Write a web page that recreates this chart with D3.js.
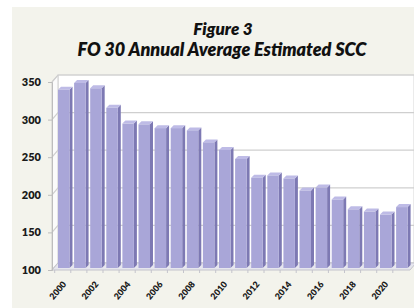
<!DOCTYPE html>
<html>
<head>
<meta charset="utf-8">
<script src="https://cdn.jsdelivr.net/npm/d3@7"></script>
<style>
  body { margin: 0; background: #ffffff; }
  svg { display: block; }
</style>
</head>
<body>
<div id="chart"></div>
<script>
// FO 30 annual average estimated SCC, 2000 - 2021
var years = [2000, 2001, 2002, 2003, 2004, 2005, 2006, 2007, 2008, 2009, 2010,
             2011, 2012, 2013, 2014, 2015, 2016, 2017, 2018, 2019, 2020, 2021];
var scc = [337, 346, 339, 313, 292, 291, 286, 286, 283, 267, 257,
           245, 220, 223, 219, 203, 207, 191, 178, 175, 171, 181];
var yTicks = [100, 150, 200, 250, 300, 350];
var xLabels = ["2000", "2002", "2004", "2006", "2008", "2010", "2012", "2014", "2016", "2018", "2020"];

var W = 414, H = 308;

var svg = d3.select("#chart")
  .append("svg")
    .attr("width", W)
    .attr("height", H);

// beige panel (white strip top / left like the scan)
svg.append("rect")
    .attr("x", 12).attr("y", 7)
    .attr("width", W - 12).attr("height", H - 7)
    .style("fill", "#f3f3ec");

// title
svg.append("text")
    .attr("x", 223).attr("y", 35)
    .attr("text-anchor", "middle")
    .style("font", "italic 800 17px Lato")
    .style("fill", "#111")
    .text("Figure 3");
svg.append("text")
    .attr("x", 222).attr("y", 56)
    .attr("text-anchor", "middle")
    .style("font", "italic 800 18px Lato")
    .style("fill", "#111")
    .text("FO 30 Annual Average Estimated SCC");

// scales (front plane of the 3d box)
var y = d3.scaleLinear().domain([100, 350]).range([270, 82]);
var x = d3.scaleBand()
    .domain(years)
    .range([52, 411.6])
    .paddingInner(0.286)
    .paddingOuter(0.31);

var depth = {dx: 6, dy: -7};     // back wall offset
var barOff = {dx: 1, dy: -2};    // bars sit a little behind the front plane
var side = {dx: 3, dy: -3};      // bar depth

var x0 = 52, x1 = 410;

// back wall
svg.append("rect")
    .attr("x", x0 + depth.dx).attr("y", y(350) + depth.dy)
    .attr("width", W - x0 - depth.dx).attr("height", y(100) - y(350))
    .style("fill", "#ffffff")
    .style("stroke", "#d6d6d6");

// left wall
svg.append("path")
    .attr("d", "M" + x0 + "," + y(100) + "L" + x0 + "," + y(350) +
               "L" + (x0 + depth.dx) + "," + (y(350) + depth.dy) +
               "L" + (x0 + depth.dx) + "," + (y(100) + depth.dy) + "Z")
    .style("fill", "#fbfbfb")
    .style("stroke", "#cfcfcf");

// gridlines
var grid = svg.append("g");
yTicks.forEach(function(t) {
  grid.append("path")
      .attr("d", "M" + x0 + "," + y(t) + "L" + (x0 + depth.dx) + "," + (y(t) + depth.dy) +
                 "L" + W + "," + (y(t) + depth.dy))
      .style("fill", "none")
      .style("stroke", "#cfcfcf")
      .style("stroke-width", 1.2);
});

// floor
svg.append("path")
    .attr("d", "M" + x0 + "," + y(100) + "L" + x1 + "," + y(100) +
               "L" + (x1 + depth.dx) + "," + (y(100) + depth.dy) +
               "L" + (x0 + depth.dx) + "," + (y(100) + depth.dy) + "Z")
    .style("fill", "#e6e6ee")
    .style("stroke", "#c4c4cc");

// y axis
var yAxis = svg.append("g")
    .attr("transform", "translate(" + x0 + ",0)")
    .call(d3.axisLeft(y).tickValues(yTicks).tickSize(4).tickPadding(7));
yAxis.select(".domain").style("stroke", "#bdbdbd");
yAxis.selectAll(".tick line").style("stroke", "#bdbdbd");
yAxis.selectAll("text")
    .style("font", "800 11px Lato")
    .style("fill", "#1a1a1a");

// x ticks along the floor front edge
svg.append("g")
  .selectAll("line")
  .data(years)
  .enter().append("line")
    .attr("x1", function(d) { return x(d) - x.step() * x.paddingInner() / 2; })
    .attr("x2", function(d) { return x(d) - x.step() * x.paddingInner() / 2; })
    .attr("y1", y(100)).attr("y2", y(100) + 3)
    .style("stroke", "#c4c4cc");

// bars
var bars = svg.append("g")
  .selectAll("g")
  .data(years.map(function(d, i) { return {year: d, value: scc[i]}; }))
  .enter().append("g");

var bw = x.bandwidth();

// side face
bars.append("path")
    .attr("d", function(d) {
      var l = x(d.year) + barOff.dx + bw, t = y(d.value) + barOff.dy, b = y(100) + barOff.dy;
      return "M" + l + "," + t + "L" + (l + side.dx) + "," + (t + side.dy) +
             "L" + (l + side.dx) + "," + (b + side.dy) + "L" + l + "," + b + "Z";
    })
    .style("fill", "#7d79b3");

// top face
bars.append("path")
    .attr("d", function(d) {
      var l = x(d.year) + barOff.dx, t = y(d.value) + barOff.dy;
      return "M" + l + "," + t + "L" + (l + bw) + "," + t +
             "L" + (l + bw + side.dx) + "," + (t + side.dy) +
             "L" + (l + side.dx) + "," + (t + side.dy) + "Z";
    })
    .style("fill", "#bebbe6");

// front face
bars.append("rect")
    .attr("x", function(d) { return x(d.year) + barOff.dx; })
    .attr("y", function(d) { return y(d.value) + barOff.dy; })
    .attr("width", bw)
    .attr("height", function(d) { return y(100) - y(d.value); })
    .style("fill", "#a9a6d8");

// x labels, every other year, rotated
svg.append("g")
  .selectAll("text")
  .data(xLabels)
  .enter().append("text")
    .attr("transform", function(d) {
      return "translate(" + (x(+d) + bw / 2 + 4) + "," + (y(100) + 14.5) + ") rotate(-50)";
    })
    .attr("text-anchor", "end")
    .style("font", "800 8.8px Lato")
    .style("fill", "#1a1a1a")
    .text(function(d) { return d; });
</script>
</body>
</html>
